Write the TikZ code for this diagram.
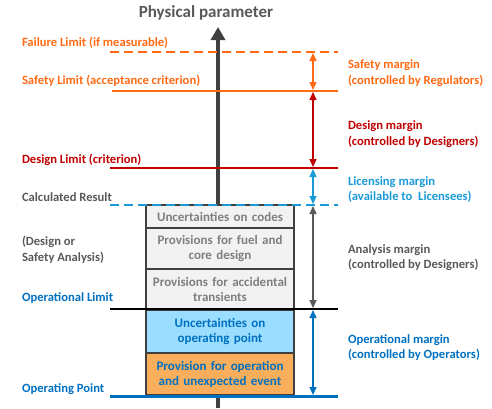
\documentclass[tikz,border=0pt]{standalone}
\usepackage{fontspec}
\setmainfont{Carlito}
\usetikzlibrary{arrows.meta,positioning}

\definecolor{safetyorange}{HTML}{FF6A13}
\definecolor{designred}{HTML}{C00000}
\definecolor{licblue}{HTML}{1A9AD6}
\definecolor{opblue}{HTML}{0070C0}
\definecolor{axisgray}{HTML}{404040}
\definecolor{textgray}{HTML}{595959}
\definecolor{boxgray}{HTML}{F2F2F2}
\definecolor{boxtext}{HTML}{7F7F7F}
\definecolor{boxblue}{HTML}{9BDDFF}
\definecolor{boxorange}{HTML}{F9AE5C}

\begin{document}
\begin{tikzpicture}[x=1pt,y=-1pt,
    every node/.style={font=\bfseries\fontsize{12.6}{15.5}\selectfont,inner sep=0pt,outer sep=0pt},
    level/.style={line width=2.5pt},
    margin/.style={{Triangle[width=7pt,length=8pt]}-{Triangle[width=7pt,length=8pt]},line width=1.3pt,shorten <=1pt,shorten >=1pt},
    lbl/.style={anchor=west,align=left},
    stack/.style={draw=axisgray,line width=1.2pt,minimum width=148pt,text width=146pt,align=center,
      font=\bfseries\fontsize{13}{15}\selectfont}]
  \useasboundingbox (0,0) rectangle (492,408);

  % levels on the axis
  \foreach \name/\y in {fail/52,safe/91,design/168,calc/205,oplim/309,oppt/396}{
    \coordinate (\name L) at (110,\y);
    \coordinate (\name R) at (338,\y);
    \coordinate (\name M) at (313,\y);
  }

  % axis
  \coordinate (axisbot) at (218,408);
  \coordinate (axistop) at (218,27);
  \draw[axisgray,line width=4pt,-{Triangle[width=14pt,length=13pt]}] (axisbot) -- (axistop);
  \node[textgray,font=\bfseries\fontsize{17}{18}\selectfont] (title) at (206,13) {Physical parameter};

  % stacked provisions
  \node[stack,fill=boxgray,text=boxtext,minimum height=23pt,anchor=north] (codes) at (220,205) {Uncertainties on codes};
  \node[stack,fill=boxgray,text=boxtext,minimum height=41pt,below=0pt of codes] (fuel) {Provisions for fuel and\\core design};
  \node[stack,fill=boxgray,text=boxtext,minimum height=40pt,below=0pt of fuel] (trans) {Provisions for accidental\\transients};
  \node[stack,fill=boxblue,text=opblue,minimum height=43pt,anchor=north] (oppoint) at (220,310) {Uncertainties on\\operating point};
  \node[stack,fill=boxorange,text=opblue,minimum height=42pt,below=0pt of oppoint] (event) {Provision for operation\\and unexpected event};

  % limit lines
  \draw[level,safetyorange,dash pattern=on 9pt off 5pt] (failL) -- (failR);
  \draw[level,safetyorange] ([xshift=2pt]safeL) -- (safeR);
  \draw[level,designred] (designL) -- (designR);
  \draw[level,licblue,dash pattern=on 9pt off 5pt] (calcL) -- (calcR);
  \draw[level,black] (oplimL) -- (oplimR);
  \draw[level,opblue,line width=3pt] (opptL) -- (opptR);

  % margins
  \draw[margin,safetyorange] (failM) -- (safeM);
  \draw[margin,designred] (safeM) -- (designM);
  \draw[margin,licblue] (designM) -- (calcM);
  \draw[margin,textgray] (calcM) -- (oplimM);
  \draw[margin,opblue] (oplimM) -- (opptM);

  % left labels
  \node[lbl,safetyorange] (faillbl) at (22,43) {Failure Limit (if measurable)};
  \node[lbl,safetyorange] (safelbl) at (22,81) {Safety Limit (acceptance criterion)};
  \node[lbl,designred] (designlbl) at (22,160) {Design Limit (criterion)};
  \node[lbl,textgray] (calclbl) at (22,197) {Calculated Result};
  \node[lbl,textgray,font=\bfseries\fontsize{12.6}{16}\selectfont] (analysislbl) at (22,250) {(Design or\\Safety Analysis)};
  \node[lbl,opblue] (oplimlbl) at (22,298) {Operational Limit};
  \node[lbl,opblue] (opptlbl) at (22,389) {Operating Point};

  % right labels
  \node[lbl,safetyorange] (safemargin) at (348,73) {Safety margin\\(controlled by Regulators)};
  \node[lbl,designred] (designmargin) at (348,134) {Design margin\\(controlled by Designers)};
  \node[lbl,licblue] (licmargin) at (348,189.5) {Licensing margin\\(available to\ \ Licensees)};
  \node[lbl,textgray] (anamargin) at (348,257.5) {Analysis margin\\(controlled by Designers)};
  \node[lbl,opblue] (opmargin) at (348,347.5) {Operational margin\\(controlled by Operators)};
\end{tikzpicture}
\end{document}
